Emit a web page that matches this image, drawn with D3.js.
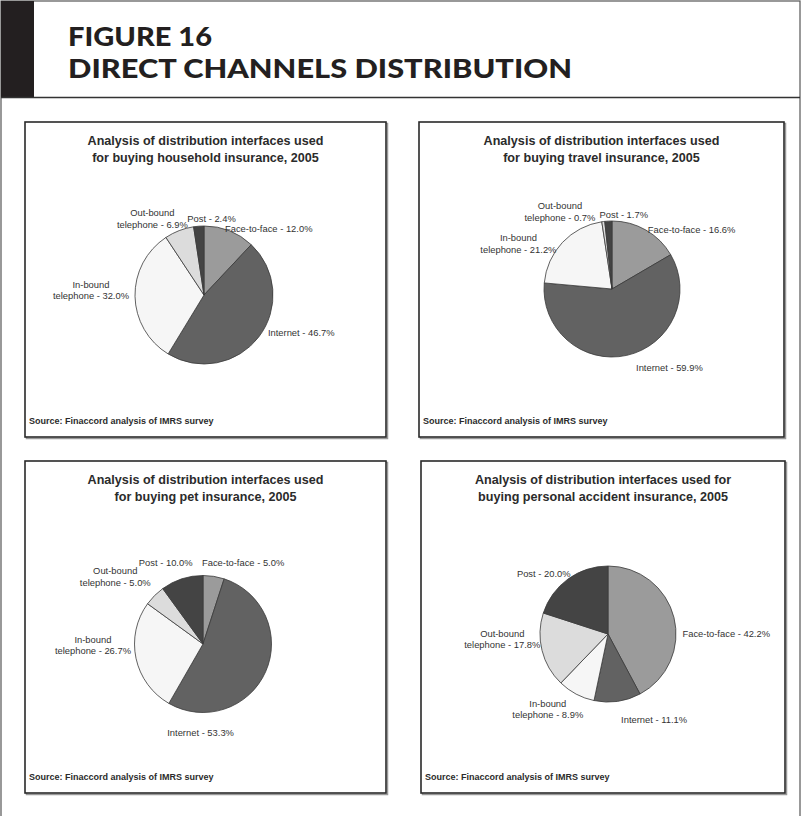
<!DOCTYPE html>
<html>
<head>
<meta charset="utf-8">
<script src="https://cdn.jsdelivr.net/npm/d3@7"></script>
<style>
  html, body { margin: 0; padding: 0; background: #fff; }
  svg { display: block; }
</style>
</head>
<body>
<div id="chart"></div>
<script>
const width = 802;
const height = 816;

// data (clockwise from 12 o'clock)
const channels = ["Face-to-face", "Internet", "In-bound telephone", "Out-bound telephone", "Post"];
const labelLines = [["Face-to-face"], ["Internet"], ["In-bound", "telephone"], ["Out-bound", "telephone"], ["Post"]];
const household = [12.0, 46.7, 32.0, 6.9, 2.4];
const travel = [16.6, 59.9, 21.2, 0.7, 1.7];
const pet = [5.0, 53.3, 26.7, 5.0, 10.0];
const accident = [42.2, 11.1, 8.9, 17.8, 20.0];
const panelTitles = [
    ["Analysis of distribution interfaces used", "for buying household insurance, 2005"],
    ["Analysis of distribution interfaces used", "for buying travel insurance, 2005"],
    ["Analysis of distribution interfaces used", "for buying pet insurance, 2005"],
    ["Analysis of distribution interfaces used for", "buying personal accident insurance, 2005"]
];
const sourceText = "Source: Finaccord analysis of IMRS survey";

const sliceColors = ["#9b9b9b", "#626262", "#f6f6f6", "#dcdcdc", "#444444"];

// panel layout: box, pie placement and hand nudges for crowded labels
const panels = [
    { x: 25, y: 122, w: 361, h: 315, cx: 204, cy: 295, r: 69, values: household,
      nudge: [[21, 9], [11, -11], [0, -6], [-12, 5], [15, 5]] },
    { x: 419, y: 122, w: 365, h: 315, cx: 612, cy: 289, r: 68, values: travel,
      nudge: [[21, 10], [34, 1], [-12, 14], [-38, 8], [17, 6]] },
    { x: 25, y: 461, w: 361, h: 332, cx: 203, cy: 644, r: 68.5, values: pet,
      nudge: [[22, -2], [-101, 57], [0, -16], [-10, -6], [-6, -4]] },
    { x: 421, y: 461, w: 364, h: 332, cx: 608, cy: 634, r: 68, values: accident,
      nudge: [[4, 20], [31, 7], [-9, 0], [3, -15], [-5, 5]] }
];

const svg = d3.select("#chart")
    .append("svg")
    .attr("width", width)
    .attr("height", height);

// outer frame + header
svg.append("rect")
    .attr("x", 1).attr("y", 1)
    .attr("width", 799).attr("height", height + 10)
    .attr("fill", "none")
    .attr("stroke", "#555")
    .attr("stroke-width", 1.2);

svg.append("rect")
    .attr("x", 1).attr("y", 1)
    .attr("width", 33).attr("height", 96)
    .attr("fill", "#231f20");

svg.append("line")
    .attr("x1", 1).attr("x2", 800)
    .attr("y1", 97.5).attr("y2", 97.5)
    .attr("stroke", "#333")
    .attr("stroke-width", 1.5);

svg.append("text")
    .attr("x", 68).attr("y", 46)
    .attr("font-family", "Lato")
    .attr("font-weight", 900)
    .attr("font-size", 26)
    .attr("fill", "#231f20")
    .attr("textLength", 144)
    .attr("lengthAdjust", "spacingAndGlyphs")
    .text("FIGURE 16");

svg.append("text")
    .attr("x", 68).attr("y", 78)
    .attr("font-family", "Lato")
    .attr("font-weight", 900)
    .attr("font-size", 26)
    .attr("fill", "#231f20")
    .attr("textLength", 504)
    .attr("lengthAdjust", "spacingAndGlyphs")
    .text("DIRECT CHANNELS DISTRIBUTION");

const pie = d3.pie().sort(null).value(d => d);

panels.forEach((p, i) => {
    const g = svg.append("g");

    // shadow + box
    g.append("rect")
        .attr("x", p.x + 1.5).attr("y", p.y + 1.5)
        .attr("width", p.w).attr("height", p.h)
        .attr("fill", "none")
        .attr("stroke", "#999")
        .attr("stroke-width", 1.5);
    g.append("rect")
        .attr("x", p.x).attr("y", p.y)
        .attr("width", p.w).attr("height", p.h)
        .attr("fill", "#fff")
        .attr("stroke", "#2a2a2a")
        .attr("stroke-width", 1.6);

    g.append("text")
        .attr("x", p.x + p.w / 2)
        .attr("y", p.y + 23)
        .attr("text-anchor", "middle")
        .attr("font-family", "Liberation Sans, Arial")
        .attr("font-weight", "bold")
        .attr("font-size", 12.6)
        .attr("fill", "#2b2b2b")
        .selectAll("tspan")
        .data(panelTitles[i])
        .enter()
        .append("tspan")
        .attr("x", p.x + p.w / 2)
        .attr("dy", (d, k) => k === 0 ? 0 : 16.5)
        .text(d => d);

    g.append("text")
        .attr("x", p.x + 4)
        .attr("y", p.y + p.h - 13)
        .attr("font-family", "Liberation Sans, Arial")
        .attr("font-weight", "bold")
        .attr("font-size", 9)
        .attr("fill", "#2b2b2b")
        .text(sourceText);

    const arcs = pie(p.values);
    const arc = d3.arc().innerRadius(0).outerRadius(p.r);
    const labelArc = d3.arc().innerRadius(p.r + 6).outerRadius(p.r + 6);

    const pieG = g.append("g")
        .attr("transform", "translate(" + p.cx + "," + p.cy + ")");

    pieG.selectAll("path")
        .data(arcs)
        .enter()
        .append("path")
        .attr("d", arc)
        .attr("fill", (d, k) => sliceColors[k])
        .attr("stroke", "#3a3a3a")
        .attr("stroke-width", 0.8);

    // labels, placed outside the slice mid-angle, Excel style
    arcs.forEach((a, k) => {
        const lines = labelLines[k].slice();
        lines[lines.length - 1] += " - " + p.values[k].toFixed(1) + "%";
        const mid = (a.startAngle + a.endAngle) / 2;
        const c = labelArc.centroid(a);
        const lh = 11.5;
        const t = pieG.append("text")
            .attr("font-family", "Liberation Sans, Arial")
            .attr("font-size", 9.4)
            .attr("fill", "#333")
            .attr("text-anchor", "middle");
        const spans = t.selectAll("tspan")
            .data(lines)
            .enter()
            .append("tspan")
            .text(d => d);
        let w = 0;
        spans.each(function () { w = Math.max(w, this.getComputedTextLength()); });
        const h = lines.length * lh;
        const bx = c[0] + Math.sin(mid) * w / 2 + p.nudge[k][0];
        const by = c[1] - Math.cos(mid) * h / 2 + p.nudge[k][1];
        spans.attr("x", bx)
            .attr("y", (d, n) => by - h / 2 + lh * n + 8.5);
    });
});
</script>
</body>
</html>
